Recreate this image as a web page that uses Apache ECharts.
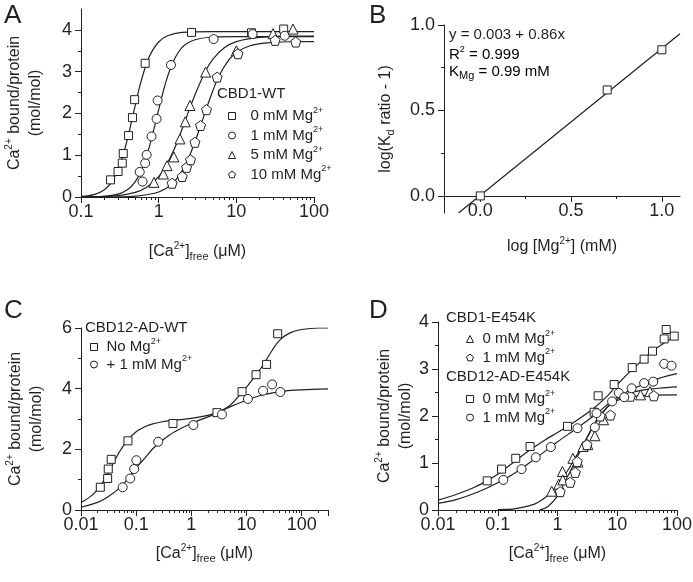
<!DOCTYPE html>
<html><head><meta charset="utf-8">
<script src="https://cdn.jsdelivr.net/npm/echarts@6/dist/echarts.min.js"></script>
<style>html,body{margin:0;padding:0;background:#fff}#c{width:693px;height:582px}</style>
</head><body><div id="c"></div>
<script>
// ---------- Panel A: CBD1-WT ----------
const sqA0 = [[0.24,0.41],[0.30,0.61],[0.34,0.81],[0.35,1.04],[0.41,1.47],[0.46,1.90],[0.49,2.33],[0.67,3.20],[2.65,3.94],[15.7,3.93],[40.7,4.02]];
const ciA1 = [[0.57,0.60],[0.62,0.37],[0.67,0.81],[0.70,1.01],[0.81,1.45],[0.94,1.87],[0.97,2.31],[1.44,3.16],[5.1,3.78],[16.2,3.90],[42,3.86]];
const trA5 = [[0.87,0.35],[1.15,0.55],[1.28,0.75],[1.57,0.96],[1.88,1.39],[2.2,1.80],[2.53,2.19],[4.02,2.99],[10,3.5],[29.7,3.91],[53.7,4.02]];
const peA10 = [[1.49,0.33],[2.01,0.49],[2.29,0.71],[2.57,0.89],[2.93,1.31],[3.46,1.71],[4.13,2.09],[5.66,2.87],[10.5,3.43],[31.6,3.75],[58.2,3.71]];
const fitA0 = [[0.1,0.015],[0.15,0.064],[0.2,0.175],[0.25,0.37],[0.3,0.656],[0.35,1.02],[0.4,1.42],[0.45,1.83],[0.5,2.2],[0.55,2.53],[0.6,2.8],[0.7,3.2],[0.8,3.45],[1,3.71],[1.3,3.86],[2,3.94],[5,3.96],[100,3.96]];
const fitA1 = [[0.1,0.002],[0.2,0.016],[0.3,0.067],[0.4,0.177],[0.5,0.367],[0.6,0.64],[0.7,0.98],[0.8,1.36],[0.9,1.74],[1,2.09],[1.1,2.4],[1.25,2.78],[1.5,3.19],[1.8,3.47],[2.2,3.65],[3,3.77],[5,3.83],[10,3.84],[100,3.84]];
const fitA5 = [[0.1,0.003],[0.2,0.014],[0.3,0.035],[0.5,0.112],[0.7,0.234],[1,0.49],[1.3,0.82],[1.6,1.16],[2,1.62],[2.5,2.11],[3,2.49],[4,3.01],[5,3.3],[7,3.57],[10,3.72],[20,3.82],[50,3.85],[100,3.85]];
const fitA10 = [[0.1,0.0003],[0.3,0.005],[0.5,0.02],[1,0.12],[1.5,0.32],[2,0.625],[2.5,0.99],[3,1.37],[3.5,1.73],[4,2.05],[5,2.55],[6,2.9],[8,3.28],[10,3.46],[15,3.62],[25,3.69],[50,3.716],[100,3.72]];
const yTicksA = [0,1,2,3,4];
const yMinorA = [0.5,1.5,2.5,3.5];

// ---------- Panel B: log(Kd ratio - 1) vs log [Mg] ----------
const ptsB = [[0,0],[0.699,0.62],[1,0.855]];
const fitB = [[-0.12,-0.1],[1.1,0.949]];
const ticksB = [0,0.5,1];
const minorB = [0.25,0.75];

// ---------- Panel C: CBD12-AD-WT ----------
const sqC = [[0.0224,0.75],[0.0304,1.04],[0.0312,1.35],[0.0353,1.67],[0.0709,2.28],[0.465,2.85],[2.91,3.21],[8.3,3.90],[14.9,4.46],[23.1,4.80],[36.7,5.81]];
const ciC = [[0.057,0.75],[0.078,1.04],[0.092,1.35],[0.101,1.64],[0.251,2.25],[1.09,2.80],[3.58,3.15],[10.6,3.66],[19.9,3.93],[29.1,4.14],[41,3.89]];
const fitCsq = [[0.01,0.25],[0.015,0.45],[0.02,0.68],[0.03,1.15],[0.04,1.6],[0.05,1.92],[0.07,2.3],[0.1,2.58],[0.15,2.76],[0.2,2.84],[0.3,2.91],[0.5,2.96],[1,3.02],[2,3.12],[3,3.22],[5,3.45],[8,3.85],[10,4.05],[15,4.47],[20,4.78],[30,5.3],[40,5.6],[60,5.83],[100,5.95],[200,6.0],[300,6.0]];
const fitCci = [[0.01,0.09],[0.02,0.25],[0.03,0.42],[0.05,0.72],[0.07,1.02],[0.1,1.38],[0.15,1.75],[0.2,2.02],[0.3,2.3],[0.5,2.58],[1,2.85],[2,3.07],[3,3.2],[5,3.4],[10,3.62],[20,3.8],[50,3.92],[100,3.96],[300,3.99]];

// ---------- Panel D: E454K mutants ----------
const trD = [[0.80,0.40],[1.05,0.55],[1.21,0.82],[1.23,0.64],[1.81,1.10],[2.2,1.02],[2.67,1.35],[3.22,1.39],[4.22,1.58],[5.9,1.92],[24.5,2.45],[35.2,2.52]];
const peD = [[1.11,0.39],[1.63,0.59],[1.98,0.80],[2.14,1.03],[3.11,1.39],[5.2,2.0],[7.7,2.02],[16.6,2.42],[41,2.43]];
const sqD = [[0.0666,0.62],[0.116,0.87],[0.2,1.10],[0.347,1.35],[1.47,1.78],[4.1,2.08],[4.79,2.43],[8.87,2.67],[17.8,3.03],[28.2,3.21],[38.9,3.38],[61,3.64],[66,3.84],[89.8,3.70]];
const ciD = [[0.124,0.64],[0.25,0.87],[0.433,1.12],[0.773,1.34],[2.16,1.74],[4.22,1.76],[4.5,2.06],[8.2,2.31],[10.6,2.49],[13.1,2.40],[17.4,2.59],[28.2,2.70],[40,2.73],[61,3.11],[81,3.07]];
const fitDtr = [[0.1,0.01],[0.2,0.03],[0.4,0.12],[0.6,0.25],[0.8,0.38],[1,0.52],[1.5,0.85],[2,1.12],[3,1.5],[4,1.78],[5,1.97],[7,2.2],[10,2.36],[20,2.52],[50,2.59],[100,2.62]];
const fitDpe = [[0.5,0.0],[0.7,0.08],[1,0.3],[1.3,0.58],[1.6,0.8],[2,1.05],[2.5,1.3],[3,1.5],[4,1.8],[5,2.0],[7,2.2],[10,2.33],[15,2.4],[30,2.44],[100,2.45]];
const fitDsq = [[0.01,0.21],[0.02,0.33],[0.04,0.48],[0.07,0.64],[0.1,0.76],[0.2,1.05],[0.35,1.28],[0.6,1.48],[1,1.65],[2,1.89],[4,2.16],[7,2.44],[10,2.67],[20,3.05],[40,3.39],[70,3.6],[100,3.72]];
const fitDci = [[0.01,0.14],[0.02,0.22],[0.05,0.4],[0.1,0.58],[0.2,0.8],[0.4,1.07],[0.7,1.3],[1,1.45],[2,1.72],[4,2.0],[7,2.25],[10,2.4],[20,2.6],[50,2.8],[100,2.9]];

// legend labels
const LBL = {
  A0:'{t|0 mM Mg}{s|2+}', A1:'{t|1 mM Mg}{s|2+}', A5:'{t|5 mM Mg}{s|2+}', A10:'{t|10 mM Mg}{s|2+}',
  C0:'{t|No Mg}{s|2+}', C1:'{t|+ 1 mM Mg}{s|2+}',
  D1a:'{t|0 mM Mg}{s|2+}', D1b:'{t|1 mM Mg}{s|2+}', D2a:'{t|0 mM Mg}{s|2+}', D2b:'{t|1 mM Mg}{s|2+}'
};

const F = "'Liberation Sans', Arial, sans-serif";
const INK = '#231f20';
const PENT = 'path://M10,0 L19.51,6.91 L15.88,18.09 L4.12,18.09 L0.49,6.91 Z';

function rich(sz) {
  return {
    t: {fontSize: sz, fontFamily: F, color: INK, lineHeight: sz + 5},
    s: {fontSize: Math.round(sz * 0.6), fontFamily: F, color: INK, verticalAlign: 'top', lineHeight: Math.round(sz*0.6)},
    b: {fontSize: Math.round(sz * 0.7), fontFamily: F, color: INK, verticalAlign: 'bottom', lineHeight: Math.round(sz*0.7)}
  };
}

function sc(name, data, sym, size, xi, yi) {
  return {type:'scatter', name, data, symbol:sym, symbolSize:size, xAxisIndex:xi, yAxisIndex:yi,
    itemStyle:{color:'#fff', borderColor:INK, borderWidth:1, opacity:1}, z:3, silent:true};
}
function ln(data, xi, yi, smooth) {
  return {type:'line', data, xAxisIndex:xi, yAxisIndex:yi, showSymbol:false, symbol:'none',
    smooth: smooth === undefined ? 0.35 : smooth, lineStyle:{color:INK, width:1.2}, z:2, silent:true};
}

const axLine = {show:true, lineStyle:{color:INK, width:1}};
const tickStyle = {color:INK, width:1};
const lab = {color:INK, fontSize:18, fontFamily:F};

function logX(grid, min, max, name, gap) {
  return {type:'log', logBase:10, gridIndex:grid, min, max, position:'bottom',
    axisLine: axLine, axisTick:{show:true, length:6, lineStyle:tickStyle},
    minorTick:{show:true, splitNumber:9, length:3, lineStyle:tickStyle},
    axisLabel:Object.assign({margin:6, showMaxLabel: max === 100}, lab),
    splitLine:{show:false}, minorSplitLine:{show:false},
    name, nameLocation:'middle', nameGap:gap, nameTextStyle:{rich:rich(16)}};
}
const caName = '{t|[Ca}{s|2+}{t|]}{b|free}{t| (μM)}';
const yName = '{t|Ca}{s|2+}{t| bound/protein}\n{t|(mol/mol)}';
const legItem = {itemWidth:7, itemHeight:7, selectedMode:false, orient:'vertical', itemStyle:{borderWidth:1}};

const option = {
  animation:false,
  backgroundColor:'#fff',
  grid:[
    {left:81, top:9, width:233, height:188, outerBoundsMode:'none'},
    {left:444, top:25, width:236, height:188, outerBoundsMode:'none'},
    {left:81, top:328, width:247, height:182, outerBoundsMode:'none'},
    {left:438, top:322, width:239, height:188, outerBoundsMode:'none'}
  ],
  xAxis:[
    logX(0, 0.1, 100, caName, 44),
    {type:'value', gridIndex:1, min:-0.2, max:1.1, position:'bottom', offset:-17.1, axisLine:Object.assign({onZero:false}, axLine),
     axisTick:{show:true, length:6, lineStyle:tickStyle, customValues:ticksB},
     axisLabel:Object.assign({margin:6, customValues:ticksB, formatter:v=>v.toFixed(1)}, lab),
     splitLine:{show:false},
     name:'{t|log [Mg}{s|2+}{t|] (mM)}', nameLocation:'middle', nameGap:40, nameTextStyle:{rich:rich(16)}},
    {type:'value', gridIndex:1, min:-0.2, max:1.1, position:'bottom', offset:-17.1, axisLine:{show:false, onZero:false},
     axisTick:{show:true, length:3, lineStyle:tickStyle, customValues:minorB},
     axisLabel:{show:false}, splitLine:{show:false}},
    logX(2, 0.01, 300, caName, 33),
    logX(3, 0.01, 100, caName, 33)
  ],
  yAxis:[
    {type:'value', gridIndex:0, min:0, max:4.5, interval:0.5, position:'left', axisLine:axLine,
     axisTick:{show:true, length:6, lineStyle:tickStyle, customValues:yTicksA},
     axisLabel:Object.assign({margin:9, customValues:yTicksA}, lab), splitLine:{show:false},
     name:yName, nameLocation:'middle', nameRotate:90, nameGap:35, nameTextStyle:{rich:rich(16)}},
    {type:'value', gridIndex:0, min:0, max:4.5, interval:0.5, position:'left', axisLine:{show:false},
     axisTick:{show:true, length:3, lineStyle:tickStyle, customValues:yMinorA}, axisLabel:{show:false}, splitLine:{show:false}},
    {type:'value', gridIndex:1, min:-0.1, max:1.0, position:'left', axisLine:Object.assign({onZero:false}, axLine),
     axisTick:{show:true, length:6, lineStyle:tickStyle, customValues:ticksB},
     axisLabel:Object.assign({margin:9, customValues:ticksB, formatter:v=>v.toFixed(1)}, lab), splitLine:{show:false},
     name:'{t|log(K}{b|d}{t| ratio - 1)}', nameLocation:'middle', nameRotate:90, nameGap:48, nameTextStyle:{rich:rich(16)}},
    {type:'value', gridIndex:1, min:-0.1, max:1.0, position:'left', axisLine:{show:false, onZero:false},
     axisTick:{show:true, length:3, lineStyle:tickStyle, customValues:minorB}, axisLabel:{show:false}, splitLine:{show:false}},
    {type:'value', gridIndex:2, min:0, max:6, interval:2, position:'left', axisLine:axLine,
     axisTick:{show:true, length:6, lineStyle:tickStyle}, minorTick:{show:true, splitNumber:2, length:3, lineStyle:tickStyle},
     axisLabel:Object.assign({margin:9}, lab), splitLine:{show:false}, minorSplitLine:{show:false},
     name:yName, nameLocation:'middle', nameRotate:90, nameGap:34, nameTextStyle:{rich:rich(16)}},
    {type:'value', gridIndex:3, min:0, max:4, interval:1, position:'left', axisLine:axLine,
     axisTick:{show:true, length:6, lineStyle:tickStyle}, minorTick:{show:true, splitNumber:2, length:3, lineStyle:tickStyle},
     axisLabel:Object.assign({margin:9}, lab), splitLine:{show:false}, minorSplitLine:{show:false},
     name:yName, nameLocation:'middle', nameRotate:90, nameGap:22, nameTextStyle:{rich:rich(16)}}
  ],
  legend:[
    Object.assign({left:223, top:101, itemGap:2, data:['A0','A1','A5','A10'], formatter:n=>LBL[n],
      textStyle:{rich:rich(15), padding:[0,0,0,10]}}, legItem),
    Object.assign({left:85, top:332, itemGap:0, data:['C0','C1'], formatter:n=>LBL[n],
      textStyle:{rich:rich(15), padding:[0,0,0,4]}}, legItem),
    Object.assign({left:461, top:324, itemGap:1, data:['D1a','D1b'], formatter:n=>LBL[n],
      textStyle:{rich:rich(15), padding:[0,0,0,4]}}, legItem),
    Object.assign({left:461, top:384, itemGap:1, data:['D2a','D2b'], formatter:n=>LBL[n],
      textStyle:{rich:rich(15), padding:[0,0,0,4]}}, legItem)
  ],
  graphic:[
    {type:'text', left:4, top:3, style:{text:'A', font:'26px '+F, fill:INK}},
    {type:'text', left:369, top:3, style:{text:'B', font:'26px '+F, fill:INK}},
    {type:'text', left:4, top:298, style:{text:'C', font:'26px '+F, fill:INK}},
    {type:'text', left:369, top:298, style:{text:'D', font:'26px '+F, fill:INK}},
    {type:'text', left:217, top:86, style:{text:'CBD1-WT', font:'15px '+F, fill:INK}},
    {type:'text', left:85, top:320, style:{text:'CBD12-AD-WT', font:'15px '+F, fill:INK}},
    {type:'text', left:446, top:310, style:{text:'CBD1-E454K', font:'15px '+F, fill:INK}},
    {type:'text', left:446, top:369, style:{text:'CBD12-AD-E454K', font:'15px '+F, fill:INK}},
    {type:'text', left:449, top:27, style:{text:'y = 0.003 + 0.86x', font:'15px '+F, fill:INK}},
    {type:'text', left:449, top:45, style:{text:'{t|R}{s|2}{t| = 0.999}', rich:rich(15)}},
    {type:'text', left:449, top:64, style:{text:'{t|K}{b|Mg}{t| = 0.99 mM}', rich:rich(15)}}
  ],
  series:[
    ln(fitA0,0,0), ln(fitA1,0,0), ln(fitA5,0,0), ln(fitA10,0,0),
    sc('A0', sqA0, 'rect', 8, 0, 0), sc('A1', ciA1, 'circle', 9, 0, 0),
    sc('A5', trA5, 'triangle', 10, 0, 0), sc('A10', peA10, PENT, 10, 0, 0),
    ln(fitB,1,2,false), sc('B', ptsB, 'rect', 8, 1, 2),
    ln(fitCsq,3,4), ln(fitCci,3,4),
    sc('C0', sqC, 'rect', 8, 3, 4), sc('C1', ciC, 'circle', 9, 3, 4),
    ln(fitDtr,4,5), ln(fitDpe,4,5), ln(fitDsq,4,5), ln(fitDci,4,5),
    sc('D1a', trD, 'triangle', 10, 4, 5), sc('D1b', peD, PENT, 10, 4, 5),
    sc('D2a', sqD, 'rect', 8, 4, 5), sc('D2b', ciD, 'circle', 9, 4, 5)
  ]
};
const chart = echarts.init(document.getElementById('c'), null, {renderer:'canvas'});
chart.setOption(option);
</script>
</body></html>
